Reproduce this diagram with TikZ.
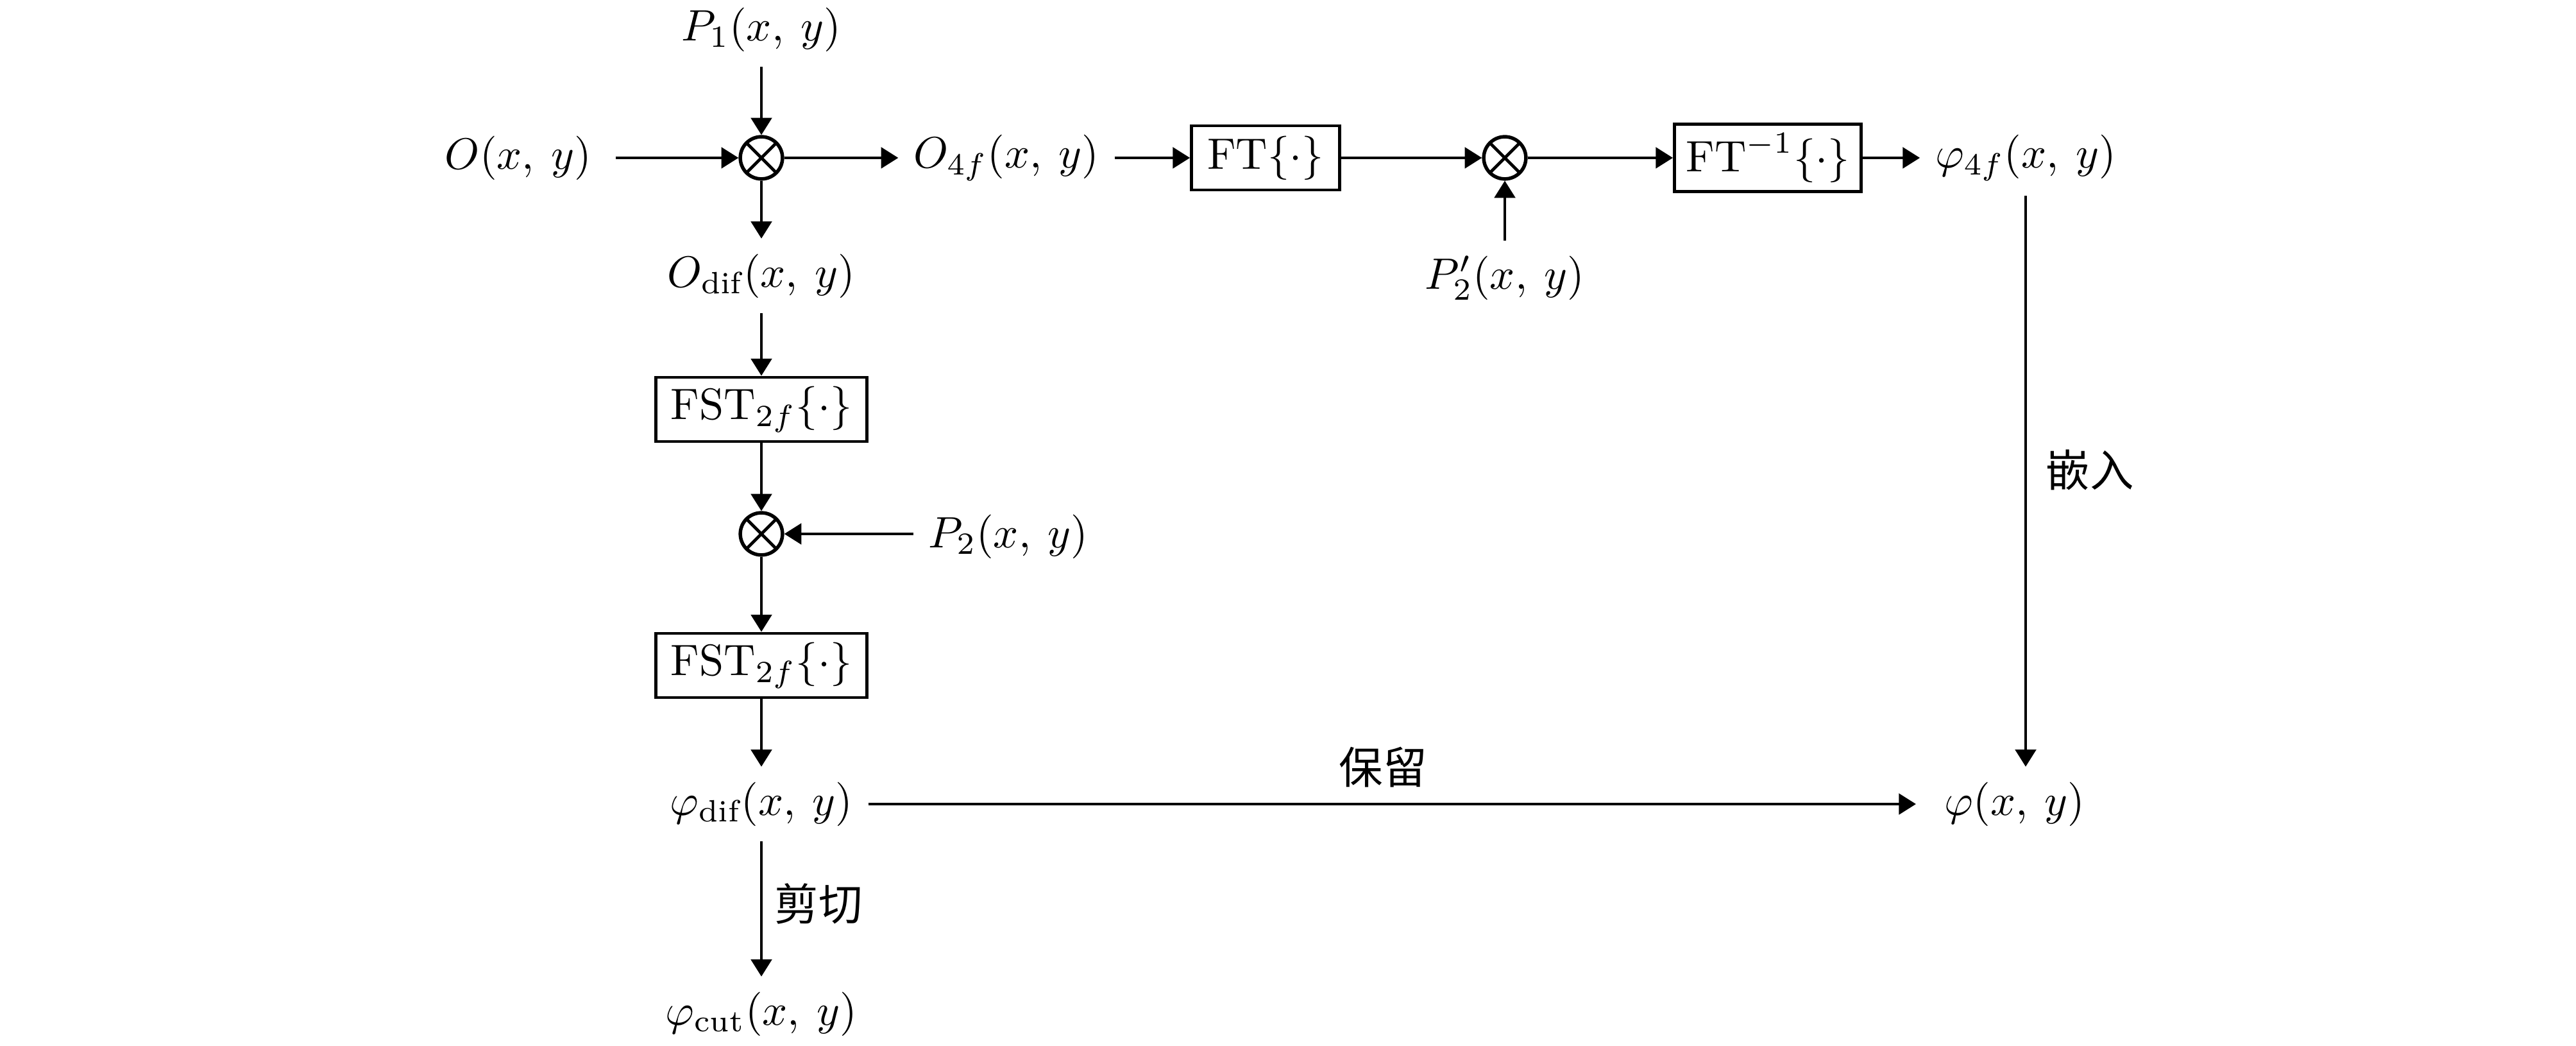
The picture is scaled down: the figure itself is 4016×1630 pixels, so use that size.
\documentclass[tikz,border=0pt]{standalone}
\usepackage{fontspec}
\newfontfamily\cjk{Noto Sans CJK SC}
\usetikzlibrary{arrows.meta}
\newcommand{\xy}{(x,\:y)}
\begin{document}
\begin{tikzpicture}[x=0.146pt,y=-0.146pt,
  every node/.style={font=\fontsize{10}{12}\selectfont},
  lbl/.style={inner sep=3.3pt},
  opbox/.style={draw,line width=0.7pt,minimum height=14.6pt,inner sep=2pt},
  mult/.style={draw,circle,line width=0.8pt,minimum size=9.6pt,inner sep=0pt,
    path picture={\draw[line width=0.7pt]
      (path picture bounding box.north west)--(path picture bounding box.south east)
      (path picture bounding box.north east)--(path picture bounding box.south west);}},
  conn/.style={line width=0.7pt,-{Triangle[length=3.9pt,width=4.7pt]}},
  cn/.style={font=\cjk\fontsize{10}{12}\selectfont}]
\useasboundingbox (0,0) rectangle (4016,1630);
% row 1
\node[lbl] (P1) at (1187,46) {$P_1\xy$};
\node[mult] (m1) at (1187,246) {};
\node[lbl] (O) at (808,246) {$O\xy$};
\node[lbl] (O4f) at (1569,246) {$O_{4f}\xy$};
\node[opbox,minimum width=33.7pt] (FT) at (1973,246) {$\mathrm{FT}\{\cdot\}$};
\node[mult] (m2) at (2346,246) {};
\node[lbl] (P2p) at (2346,433) {$P_2'\xy$};
\node[opbox,minimum width=42.5pt] (FTi) at (2756,246) {$\mathrm{FT}^{-1}\{\cdot\}$};
\node[lbl] (phi4f) at (3158,246) {$\varphi_{4f}\xy$};
% left column
\node[lbl] (Odif) at (1187,430) {$O_{\mathrm{dif}}\xy$};
\node[opbox,minimum width=48pt] (FST1) at (1187,638) {$\mathrm{FST}_{2f}\{\cdot\}$};
\node[mult] (m3) at (1187,832) {};
\node[lbl] (P2) at (1572,836) {$P_2\xy$};
\node[opbox,minimum width=48pt] (FST2) at (1187,1037) {$\mathrm{FST}_{2f}\{\cdot\}$};
\node[lbl] (phidif) at (1187,1253) {$\varphi_{\mathrm{dif}}\xy$};
\node[lbl] (phicut) at (1187,1580) {$\varphi_{\mathrm{cut}}\xy$};
\node[lbl] (phi) at (3141,1253) {$\varphi\xy$};
% Chinese labels
\node[cn] (keep) at (2156,1196) {保留};
\node[cn] (embed) at (3258,732) {嵌入};
\node[cn] (cut) at (1276,1408) {剪切};
% connectors
\draw[conn,shorten <=2pt] (O.east |- m1) -- (m1.west);
\draw[conn] (P1) -- (m1);
\draw[conn] (m1) -- (O4f.west |- m1);
\draw[conn] (m1) -- (Odif);
\draw[conn] (O4f.east |- FT) -- (FT.west);
\draw[conn] (FT) -- (m2);
\draw[conn] (P2p) -- (m2);
\draw[conn] (m2) -- (FTi);
\draw[conn] (FTi.east) -- (phi4f.west |- FTi);
\draw[conn] (Odif) -- (FST1);
\draw[conn] (FST1) -- (m3);
\draw[conn] (P2.west |- m3) -- (m3.east);
\draw[conn] (m3) -- (FST2);
\draw[conn] (FST2) -- (phidif);
\draw[conn] (phidif) -- (phicut);
\draw[conn,shorten >=3pt] (phidif) -- (phi);
\coordinate (drop) at (phi4f.south |- phi.north);
\draw[conn] (phi4f.south) -- (drop);
\end{tikzpicture}
\end{document}
